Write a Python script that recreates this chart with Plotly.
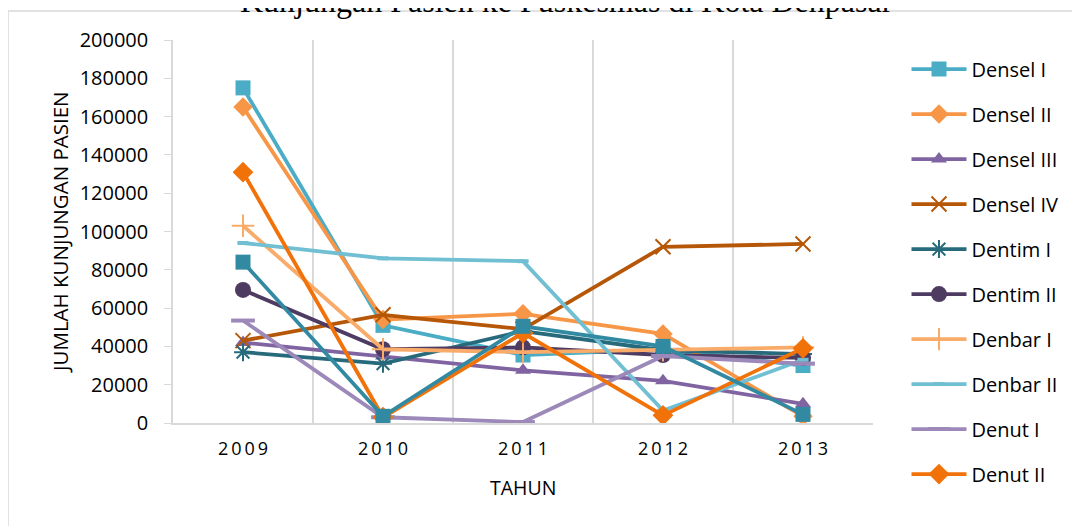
import plotly.graph_objects as go

years = ["2009", "2010", "2011", "2012", "2013"]

densel_1 = [175000, 51000, 35500, 38500, 30000]
densel_2 = [165000, 54000, 57000, 46500, 3500]
densel_3 = [42000, 35000, 27500, 22000, 10000]
densel_4 = [43000, 56500, 49000, 92000, 93500]
dentim_1 = [37000, 31000, 48000, 38000, 36000]
dentim_2 = [69500, 38500, 39500, 35500, 34000]
denbar_1 = [103000, 38500, 37000, 38000, 39500]
denbar_2 = [94000, 86000, 84500, 6500, 33000]
denut_1 = [53500, 3000, 500, 35000, 31000]
denut_2 = [131000, 3000, 47000, 4000, 39000]
denut_3 = [84000, 3500, 50500, 40000, 4500]

series_names = ["Densel I", "Densel II", "Densel III", "Densel IV", "Dentim I",
                "Dentim II", "Denbar I", "Denbar II", "Denut I", "Denut II", "Denut III"]
series_values = [densel_1, densel_2, densel_3, densel_4, dentim_1,
                 dentim_2, denbar_1, denbar_2, denut_1, denut_2, denut_3]
colors = ["#4BACC6", "#F79646", "#8064A2", "#B65708", "#276A7C",
          "#4D3B62", "#F9AB6A", "#71BFD3", "#9C88B9", "#F2720A", "#318AA2"]
symbols = ["square", "diamond", "triangle-up", "x-thin-open", "asterisk-open",
           "circle", "cross-thin-open", "line-ew-open", "line-ew-open", "diamond", "square"]
sizes = [15, 15, 14, 15, 15, 16, 16, 8, 17, 16, 15]
in_legend = [True] * 10 + [False]

tick_text = ["\u2009".join(y) for y in years]

fig = go.Figure()
for name, vals, col, sym, sz, leg in zip(series_names, series_values, colors, symbols, sizes, in_legend):
    if sym == "line-ew-open":
        lw = 4
    elif sym.endswith("open"):
        lw = 2
    else:
        lw = 0
    fig.add_trace(go.Scatter(
        x=years, y=vals, name=name, mode="lines+markers",
        legendgroup=name, showlegend=leg,
        line=dict(color=col, width=3.8),
        marker=dict(symbol=sym, size=sz, color=col, line=dict(color=col, width=lw)),
    ))

grid = "#D9D9D9"
fig.update_layout(
    width=1080, height=526,
    margin=dict(l=165, r=215, t=32, b=111, autoexpand=False),
    paper_bgcolor="white", plot_bgcolor="white",
    font=dict(family="Open Sans", size=20, color="black"),
    showlegend=True,
    legend=dict(x=1.045 + 2 / 700, xanchor="left", y=0.975, yanchor="top",
                traceorder="grouped", tracegroupgap=16,
                font=dict(family="Open Sans", size=20, color="black"),
                itemwidth=55, bgcolor="rgba(0,0,0,0)", maxheight=700),
    xaxis=dict(type="category", categoryorder="array", categoryarray=years,
               tickmode="array", tickvals=years, ticktext=tick_text,
               tickson="boundaries", showgrid=True, gridcolor=grid, gridwidth=1.5,
               showline=True, linecolor=grid, linewidth=2, ticks="",
               range=[-0.5, 4.5], zeroline=False, ticklabelstandoff=8,
               tickfont=dict(family="Open Sans", size=18, color="black")),
    yaxis=dict(range=[0, 200000], dtick=20000, tick0=0, showgrid=False,
               showline=True, linecolor=grid, linewidth=1.5,
               ticks="outside", ticklen=7, tickcolor=grid, zeroline=False,
               tickformat="d", ticklabelstandoff=12,
               tickfont=dict(family="Open Sans", size=20, color="black")),
    annotations=[
        dict(text="JUMLAH KUNJUNGAN PASIEN", textangle=-90, xref="paper", yref="paper",
             x=(60 - 173) / 700, y=(423 - 232) / 383, xanchor="center", yanchor="middle",
             showarrow=False, font=dict(family="Open Sans", size=20.5, color="black")),
        dict(text="TAHUN", xref="paper", yref="paper",
             x=(523 - 173) / 700, y=(423 - 487) / 383, xanchor="center", yanchor="middle",
             showarrow=False, font=dict(family="Open Sans", size=19.5, color="black")),
        dict(text="Kunjungan Pasien ke Puskesmas di Kota Denpasar", xref="paper", yref="paper",
             x=(566 - 173) / 700, y=(423 - 21) / 383, xanchor="center", yanchor="bottom",
             showarrow=False, font=dict(family="Liberation Serif", size=32, color="black")),
    ],
    shapes=[
        dict(type="line", xref="paper", yref="paper",
             x0=(8 - 173) / 700, x1=(1090 - 173) / 700, y0=(423 - 11) / 383, y1=(423 - 11) / 383,
             line=dict(color=grid, width=1.5)),
        dict(type="line", xref="paper", yref="paper",
             x0=(8 - 173) / 700, x1=(8 - 173) / 700, y0=(423 - 11) / 383, y1=(423 - 540) / 383,
             line=dict(color=grid, width=1.5)),
    ],
)

fig.write_html("out.html")
